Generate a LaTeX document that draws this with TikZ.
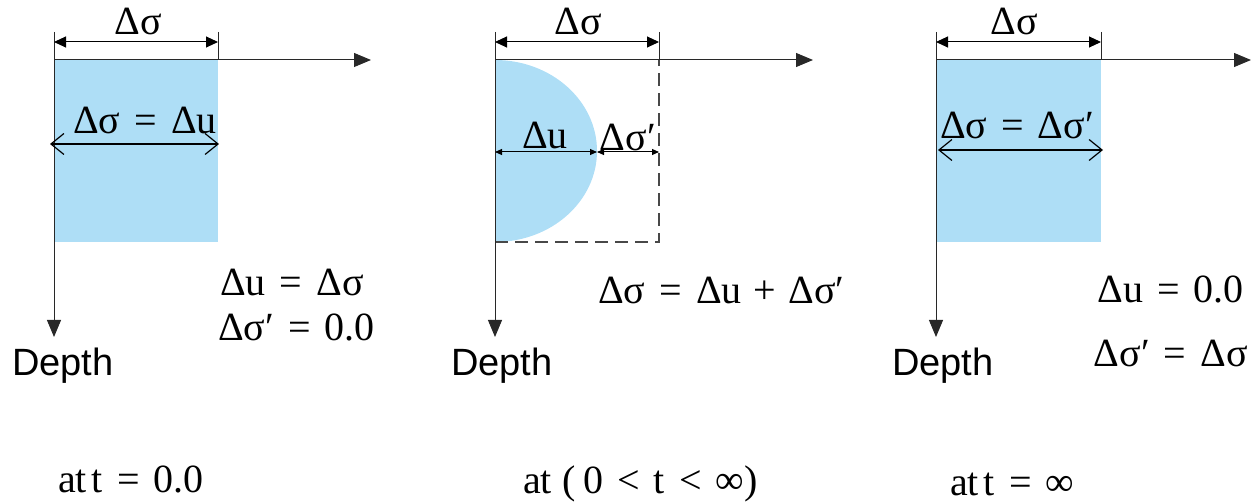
\documentclass[tikz,border=0pt]{standalone}
\usepackage{fontspec}
\setmainfont{Liberation Serif}
\newfontfamily\depthfont{Liberation Sans}
\usepackage{tikz}
\usetikzlibrary{arrows.meta, positioning, calc}
\usepackage{xcolor}
\definecolor{softblue}{RGB}{174,222,246}
\definecolor{axisgray}{RGB}{40,40,40}
\newcommand{\eq}{\hspace{0.35em}=\hspace{0.35em}}

\begin{document}
\begin{tikzpicture}[x=1pt, y=-1pt,
  axis/.style={axisgray, line width=1pt, -{Triangle[length=17pt,width=14pt]}},
  dimline/.style={black, line width=1pt, {Triangle[length=12pt,width=11pt]}-{Triangle[length=12pt,width=11pt]}},
  openline/.style={black, line width=1.2pt, {Straight Barb[length=13pt,width=21pt]}-{Straight Barb[length=13pt,width=21pt]}},
  smallline/.style={black, line width=1pt, {Triangle[length=7pt,width=6pt]}-{Triangle[length=7pt,width=6pt]}},
  lbl/.style={font=\fontsize{40}{44}\selectfont, inner sep=0pt},
  depth/.style={font=\depthfont\fontsize{38}{42}\selectfont, inner sep=0pt, anchor=west}]
  \useasboundingbox (0,0) rectangle (1251,502);

  % panel 1: t = 0
  \coordinate (o1) at (54,60);
  \fill[softblue] (54,60) rectangle (218,242);
  \coordinate (x1) at (371,60); \coordinate (y1) at (54,337);
  \draw[axis] (o1) -- (x1);
  \draw[axis] (o1) -- (y1);
  \coordinate (t1a) at (54,32); \coordinate (t1b) at (218,32); \coordinate (b1) at (218,60);
  \draw[axisgray, line width=0.8pt] (t1b) -- (b1);
  \draw[axisgray, line width=0.8pt] (t1a) -- (o1);
  \coordinate (d1a) at (54,42); \coordinate (d1b) at (218,42);
  \draw[dimline] (d1a) -- (d1b);
  \node[lbl] (s1) at (138,21) {Δσ};
  \coordinate (m1a) at (50,144); \coordinate (m1b) at (219,144);
  \draw[openline] (m1a) -- (m1b);
  \node[lbl] (e1) at (145,120) {Δσ\eq Δu};
  \node[lbl, anchor=west] (r1) at (220,282) {Δu\eq Δσ};
  \node[lbl, anchor=west] (r1b) at (218,327) {Δσ′\eq 0.0};
  \node[depth] (dp1) at (12,366) {Depth};
  \node[lbl, anchor=west] (c1) at (58,479) {at\hspace{0.12em}t\eq 0.0};

  % panel 2: 0 < t < inf
  \coordinate (o2) at (495,60);
  \fill[softblue] (495,60) arc[start angle=-90, end angle=90, x radius=102, y radius=91] -- cycle;
  \coordinate (x2) at (813,60); \coordinate (y2) at (495,337);
  \coordinate (c2a) at (495,242); \coordinate (c2b) at (659,242); \coordinate (c2c) at (659,60);
  \draw[axisgray!85, line width=1.2pt, dash pattern=on 13pt off 7pt] (c2a) -- (c2b) -- (c2c);
  \draw[axis] (o2) -- (x2);
  \draw[axis] (o2) -- (y2);
  \coordinate (t2a) at (495,32); \coordinate (t2b) at (659,32);
  \draw[axisgray, line width=0.8pt] (t2a) -- (o2);
  \draw[axisgray, line width=0.8pt] (t2b) -- (c2c);
  \coordinate (d2a) at (495,42); \coordinate (d2b) at (659,42);
  \draw[dimline] (d2a) -- (d2b);
  \node[lbl] (s2) at (578,21) {Δσ};
  \coordinate (m2a) at (495,152); \coordinate (m2b) at (597,152); \coordinate (m2c) at (659,152);
  \draw[smallline] (m2a) -- (m2b);
  \draw[smallline] (m2b) -- (m2c);
  \node[lbl] (u2) at (545,135) {Δu};
  \node[lbl] (p2) at (628,137) {Δσ′};
  \node[lbl, anchor=west] (r2) at (598,290) {Δσ\eq Δu\hspace{0.3em}+\hspace{0.3em}Δσ′};
  \node[depth] (dp2) at (451,366) {Depth};
  \node[lbl, anchor=west] (c2) at (523,484) {at\hspace{0.25em}(\hspace{0.2em}0\hspace{0.35em}<\hspace{0.35em}t\hspace{0.35em}<\hspace{0.35em}∞)};

  % panel 3: t = inf
  \coordinate (o3) at (936,60);
  \fill[softblue] (936,60) rectangle (1101,242);
  \coordinate (x3) at (1251,60); \coordinate (y3) at (936,337);
  \draw[axis] (o3) -- (x3);
  \draw[axis] (o3) -- (y3);
  \coordinate (t3a) at (936,32); \coordinate (t3b) at (1101,32); \coordinate (b3) at (1101,60);
  \draw[axisgray, line width=0.8pt] (t3a) -- (o3);
  \draw[axisgray, line width=0.8pt] (t3b) -- (b3);
  \coordinate (d3a) at (936,42); \coordinate (d3b) at (1101,42);
  \draw[dimline] (d3a) -- (d3b);
  \node[lbl] (s3) at (1014,21) {Δσ};
  \coordinate (m3a) at (938,150); \coordinate (m3b) at (1103,150);
  \draw[openline] (m3a) -- (m3b);
  \node[lbl] (e3) at (1017,125) {Δσ\eq Δσ′};
  \node[lbl, anchor=east] (r3) at (1244,289) {Δu\eq 0.0};
  \node[lbl, anchor=east] (r3b) at (1248,353) {Δσ′\eq Δσ};
  \node[depth] (dp3) at (892,366) {Depth};
  \node[lbl, anchor=west] (c3) at (950,484) {at\hspace{0.12em}t\eq ∞};
\end{tikzpicture}
\end{document}
